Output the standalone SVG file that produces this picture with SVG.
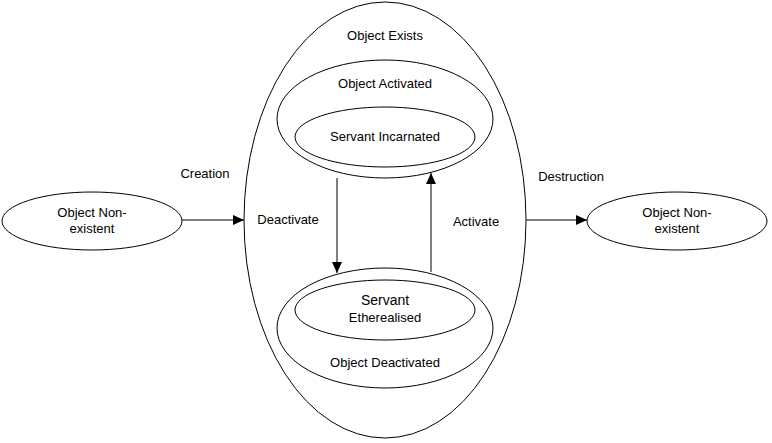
<svg xmlns="http://www.w3.org/2000/svg" width="772" height="443" viewBox="0 0 772 443">
<style>
.s{fill:none;stroke:#000;stroke-width:1}
.w{fill:#fff;stroke:#000;stroke-width:1}
text{font-family:"Liberation Sans",Arial,sans-serif;font-size:13px;fill:#000;text-anchor:middle}
.c{stroke:#000;stroke-width:1;fill:none;marker-end:url(#ah)}
</style>
<defs>
<marker id="ah" markerWidth="12" markerHeight="10" refX="11" refY="5" orient="auto" markerUnits="userSpaceOnUse">
<path d="M0,0 L11,5 L0,10 z" fill="#000"/>
</marker>
</defs>
<rect width="772" height="443" fill="#fff"/>
<g id="exists">
<ellipse class="w" cx="385" cy="220" rx="141" ry="218"/>
<text x="385" y="40">Object Exists</text>
</g>
<g id="activated">
<ellipse class="s" cx="385" cy="119" rx="108" ry="59"/>
<text x="385" y="88">Object Activated</text>
</g>
<g id="incarnated">
<ellipse class="s" cx="385" cy="137" rx="90" ry="30"/>
<text x="385" y="141">Servant Incarnated</text>
</g>
<g id="deactivated">
<ellipse class="s" cx="385" cy="328" rx="108" ry="60"/>
<text x="385" y="367">Object Deactivated</text>
</g>
<g id="etherealised">
<ellipse class="s" cx="385" cy="310" rx="90" ry="30"/>
<text x="385" y="305" style="font-size:14px">Servant</text>
<text x="385" y="322">Etherealised</text>
</g>
<g id="nonexistent-left">
<ellipse class="w" cx="92" cy="221" rx="90" ry="29"/>
<text x="92" y="217">Object Non-</text>
<text x="92" y="233">existent</text>
</g>
<g id="nonexistent-right">
<ellipse class="w" cx="677" cy="221" rx="90" ry="29"/>
<text x="677" y="217">Object Non-</text>
<text x="677" y="233">existent</text>
</g>
<g id="connectors">
<line class="c" x1="182" y1="220" x2="244" y2="220"/>
<line class="c" x1="526" y1="220" x2="587" y2="220"/>
<line class="c" x1="337" y1="178" x2="337" y2="273"/>
<line class="c" x1="431" y1="272" x2="431" y2="173"/>
<text x="205" y="178">Creation</text>
<text x="571" y="181">Destruction</text>
<text x="288" y="224">Deactivate</text>
<text x="476" y="226">Activate</text>
</g>
</svg>
